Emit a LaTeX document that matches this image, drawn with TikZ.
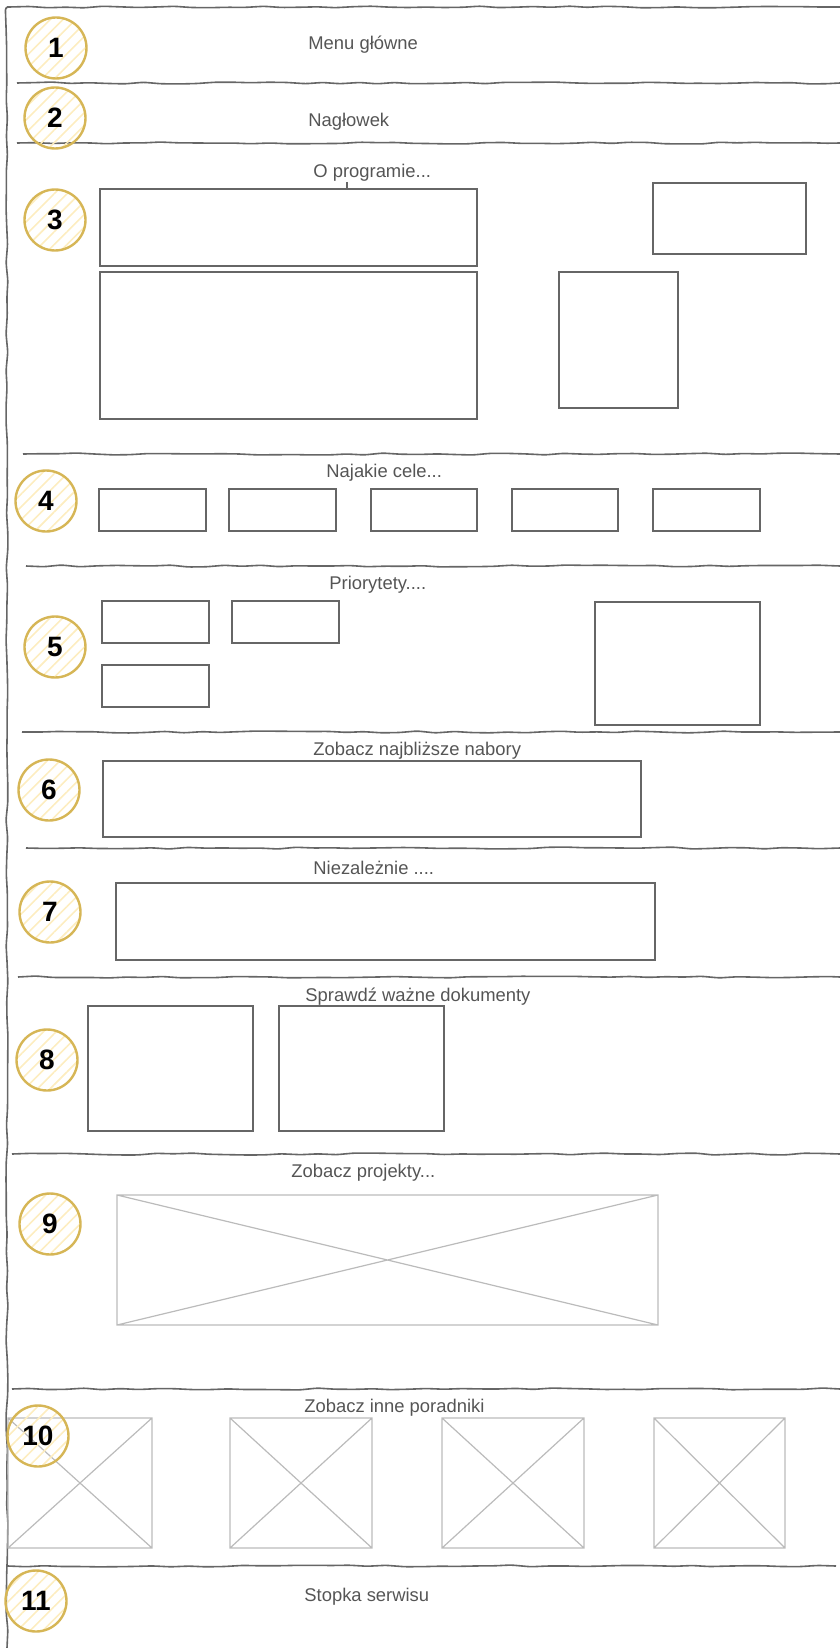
\documentclass[tikz,border=0pt]{standalone}
\usepackage{fontspec}
\setmainfont{Liberation Sans}
\usepackage{xcolor}
\usepackage{tikz}
\usetikzlibrary{decorations.pathmorphing,patterns.meta}
\definecolor{czloty}{HTML}{D6B656}
\definecolor{cjasny}{HTML}{FDEDC0}
\definecolor{cszary}{HTML}{666666}
\definecolor{cobraz}{HTML}{BBBBBB}
\definecolor{ctekst}{HTML}{555555}
\tikzset{
  linia/.style={draw=cszary, line width=0.8pt, rounded corners=1.5pt,
    decorate, decoration={random steps, segment length=9pt, amplitude=0.5pt}},
  numer/.style={circle, draw=czloty, line width=1.2pt, minimum size=30.5pt, inner sep=0pt,
    pattern={Lines[angle=45, distance=4.5pt, line width=0.8pt]}, pattern color=cjasny,
    font=\fontsize{14}{16}\selectfont\bfseries},
  etykieta/.style={anchor=west, inner sep=0pt, text=ctekst, font=\fontsize{9.2}{11}\selectfont},
  ramka/.style={draw=cszary, line width=0.75pt},
  obraz/.style={draw=cobraz, line width=0.6pt},
}
\newcommand{\obrazek}[4]{\draw[obraz] (#1,#2) rectangle (#3,#4) (#1,#2) -- (#3,#4) (#1,#4) -- (#3,#2);}

\begin{document}
\begin{tikzpicture}[x=0.5pt, y=-0.5pt]
  \pgfmathsetseed{11}
  \useasboundingbox (0,0) rectangle (840,1648);

  \draw[linia] (840,7) -- (7,7) -- (7,1648);
  \foreach \y/\xa in {83/17, 143/17, 454/23, 566/26, 732/22, 848/26, 977/18, 1154/12, 1389/12}
    \draw[linia] (\xa,\y) -- (840,\y);
  \draw[linia] (8,1566) -- (836,1566);

  \node[etykieta] (t1) at (308,45) {Menu główne};
  \node[etykieta] (t2) at (308,122) {Nagłowek};
  \node[etykieta] (t3) at (313,173) {O programie...};
  \node[etykieta] (t4) at (326,473) {Najakie cele...};
  \node[etykieta] (t5) at (329,585) {Priorytety....};
  \node[etykieta] (t6) at (313,751) {Zobacz najbliższe nabory};
  \node[etykieta] (t7) at (313,868) {Niezależnie ....};
  \node[etykieta] (t8) at (305,997) {Sprawdź ważne dokumenty};
  \node[etykieta] (t9) at (291,1173) {Zobacz projekty...};
  \node[etykieta] (t10) at (304,1408) {Zobacz inne poradniki};
  \node[etykieta] (t11) at (304,1597) {Stopka serwisu};

  \draw[ramka] (100,189) rectangle (477,266);
  \draw[ramka] (t3.south -| 347,0) -- (347,189);
  \draw[ramka] (100,272) rectangle (477,419);
  \draw[ramka] (653,183) rectangle (806,254);
  \draw[ramka] (559,272) rectangle (678,408);

  \foreach \xa/\xb in {99/206, 229/336, 371/477, 512/618, 653/760}
    \draw[ramka] (\xa,489) rectangle (\xb,531);

  \draw[ramka] (102,601) rectangle (209,643);
  \draw[ramka] (232,601) rectangle (339,643);
  \draw[ramka] (102,665) rectangle (209,707);
  \draw[ramka] (595,602) rectangle (760,725);

  \draw[ramka] (103,761) rectangle (641,837);
  \draw[ramka] (116,883) rectangle (655,960);

  \draw[ramka] (88,1006) rectangle (253,1131);
  \draw[ramka] (279,1006) rectangle (444,1131);

  \obrazek{117}{1195}{658}{1325}
  \foreach \xa/\xb in {8/152, 230/372, 442/584, 654/785}
    {\obrazek{\xa}{1418}{\xb}{1548}}

  \node[numer] (n1) at (56,48) {1};
  \node[numer] (n2) at (55,118) {2};
  \node[numer] (n3) at (55,220) {3};
  \node[numer] (n4) at (46,501) {4};
  \node[numer] (n5) at (55,647) {5};
  \node[numer] (n6) at (49,790) {6};
  \node[numer] (n7) at (50,912) {7};
  \node[numer] (n8) at (47,1060) {8};
  \node[numer] (n9) at (50,1224) {9};
  \node[numer] (n10) at (38,1436) {10};
  \node[numer] (n11) at (36,1601) {11};
\end{tikzpicture}
\end{document}
